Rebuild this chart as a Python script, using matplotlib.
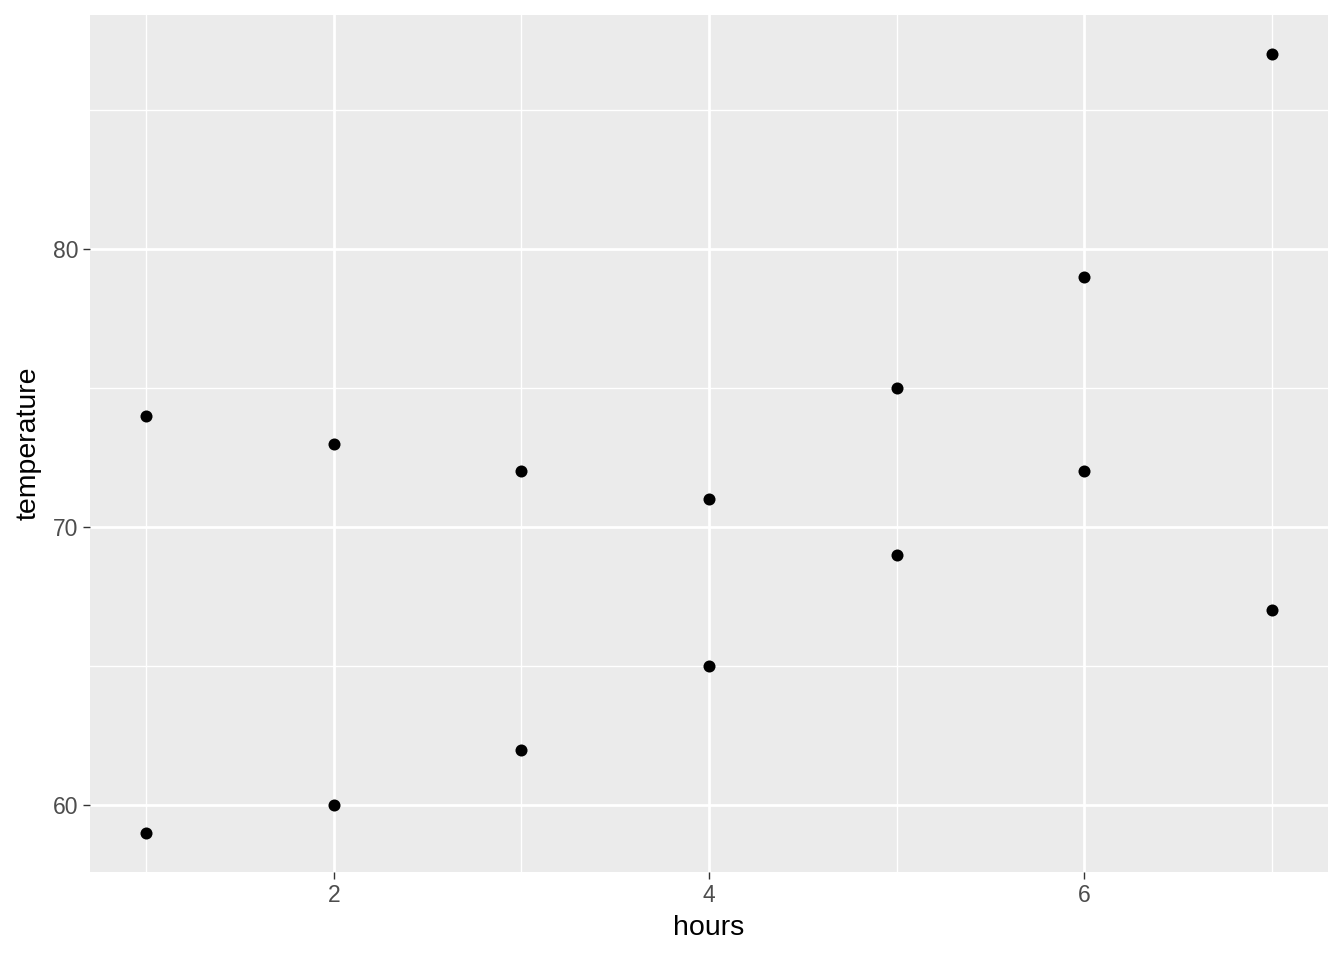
import matplotlib
matplotlib.use("Agg")
import matplotlib.pyplot as plt
import numpy as np

plt.rcParams['font.family'] = ['Liberation Sans', 'DejaVu Sans']

# data
hours = [1, 1, 2, 2, 3, 3, 4, 4, 5, 5, 6, 6, 7, 7]
temperature = [74, 59, 73, 60, 72, 62, 71, 65, 75, 69, 79, 72, 87, 67]

x_ticks = [2, 4, 6]
y_ticks = [60, 70, 80]
x_minor = [1, 3, 5, 7]
y_minor = [65, 75, 85]

fig = plt.figure(figsize=(13.44, 9.6), dpi=100)
ax = fig.add_axes([90 / 1344, 1 - 872 / 960, (1328 - 90) / 1344, (872 - 15) / 960])
ax.set_facecolor("#EBEBEB")

ax.set_xlim(0.7, 7.3)
ax.set_ylim(57.6, 88.4)

for v in x_minor:
    ax.axvline(v, color="white", lw=1.0, zorder=0)
for v in y_minor:
    ax.axhline(v, color="white", lw=1.0, zorder=0)
for v in x_ticks:
    ax.axvline(v, color="white", lw=2.0, zorder=0)
for v in y_ticks:
    ax.axhline(v, color="white", lw=2.0, zorder=0)

ax.scatter(hours, temperature, s=75, color="black", linewidths=0, zorder=3)

ax.set_xticks(x_ticks)
ax.set_yticks(y_ticks)
ax.tick_params(axis="both", length=5.3, width=1.0, color="#333333",
               labelcolor="#4D4D4D", labelsize=16.5, pad=3)
for s in ax.spines.values():
    s.set_visible(False)

ax.set_xlabel("hours", fontsize=20.5, labelpad=6)
ax.set_ylabel("temperature", fontsize=20.5, labelpad=8)

fig.savefig("out.png", dpi=100)
